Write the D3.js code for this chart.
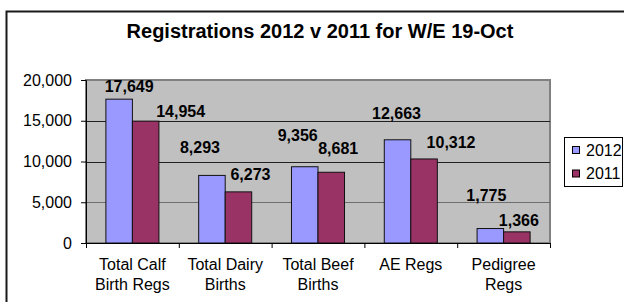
<!DOCTYPE html>
<html>
<head>
<meta charset="utf-8">
<script src="https://cdn.jsdelivr.net/npm/d3@7"></script>
<style>
  body { margin: 0; background: #fff; }
  text { font-family: "Liberation Sans", Arial, sans-serif; }
</style>
</head>
<body>
<div class="chart"></div>
<script>
// chart data
var categories = [["Total Calf", "Birth Regs"], ["Total Dairy", "Births"], ["Total Beef", "Births"], ["AE Regs"], ["Pedigree", "Regs"]];
var values2012 = [17649, 8293, 9356, 12663, 1775];
var values2011 = [14954, 6273, 8681, 10312, 1366];
var seriesNames = ["2012", "2011"];
var yTicks = [0, 5000, 10000, 15000, 20000];

// label nudges (the original had hand-placed data labels)
var labelShift2012 = [[10, -1], [-12, -16], [-7, -20], [-1, -15], [-4, -22]];
var labelShift2011 = [[35, 2], [12, -6], [7, -12], [27, -5], [2, 0]];

var svgWidth = 624, svgHeight = 302;
var plot = { left: 86, right: 550, top: 80, bottom: 243 };
var colors = ["#9999FF", "#993366"];

var svg = d3.select(".chart")
    .append("svg")
    .attr("width", svgWidth)
    .attr("height", svgHeight);

// outer chart border (runs off the right and bottom edges)
svg.append("rect")
    .attr("x", 6.5).attr("y", 11.5)
    .attr("width", 700).attr("height", 400)
    .attr("fill", "#fff")
    .attr("stroke", "#1a1a1a")
    .attr("stroke-width", 2);

svg.append("text")
    .attr("x", 320).attr("y", 38)
    .attr("text-anchor", "middle")
    .attr("font-size", "20px")
    .attr("font-weight", "bold")
    .text("Registrations 2012 v 2011 for W/E 19-Oct");

var xScale = d3.scaleBand()
    .domain(d3.range(categories.length))
    .range([plot.left, plot.right]);

var yScale = d3.scaleLinear()
    .domain([0, 20000])
    .range([plot.bottom, plot.top]);

var barW = xScale.bandwidth() / 3.5;
var groupOffset = (xScale.bandwidth() - 2 * barW) / 2;

// plot area
svg.append("rect")
    .attr("x", plot.left).attr("y", plot.top)
    .attr("width", plot.right - plot.left)
    .attr("height", plot.bottom - plot.top)
    .attr("fill", "#C0C0C0")
    .attr("stroke", "#808080")
    .attr("stroke-width", 2);

// gridlines
svg.append("g").selectAll("line")
    .data(yTicks.filter(d => d > 0 && d < 20000))
    .enter()
    .append("line")
    .attr("x1", plot.left).attr("x2", plot.right)
    .attr("y1", d => Math.round(yScale(d)) + 0.5)
    .attr("y2", d => Math.round(yScale(d)) + 0.5)
    .attr("stroke", d => d == 5000 ? "#6e6e6e" : "#202020")
    .attr("stroke-width", 1);

// bars
var series = [values2012, values2011];
series.forEach(function (vals, s) {
    svg.append("g").selectAll("rect")
        .data(vals)
        .enter()
        .append("rect")
        .attr("x", (d, i) => xScale(i) + groupOffset + s * barW)
        .attr("y", d => yScale(d))
        .attr("width", barW)
        .attr("height", d => plot.bottom - yScale(d))
        .attr("fill", colors[s])
        .attr("stroke", "#111")
        .attr("stroke-width", 1);
});

// axes
var leftAxis = d3.axisLeft(yScale)
    .tickValues(yTicks)
    .tickSize(5)
    .tickPadding(9)
    .tickFormat(d3.format(","));

var yAxis = svg.append("g")
    .attr("transform", `translate(${plot.left}, 0)`)
    .call(leftAxis);
yAxis.select(".domain").attr("stroke", "#000");
yAxis.selectAll("text")
    .attr("font-size", "16px")
    .attr("font-family", "'Liberation Sans', Arial, sans-serif")
    .attr("fill", "#000");

var bottomAxis = d3.axisBottom(d3.scaleLinear().domain([0, categories.length]).range([plot.left, plot.right]))
    .ticks(categories.length)
    .tickSize(5)
    .tickFormat("");
svg.append("g")
    .attr("transform", `translate(0, ${plot.bottom})`)
    .call(bottomAxis)
    .select(".domain").attr("stroke", "#000");

// category labels
var catLabels = svg.append("g").selectAll("text")
    .data(categories)
    .enter()
    .append("text")
    .attr("x", (d, i) => xScale(i) + xScale.bandwidth() / 2)
    .attr("y", 270)
    .attr("text-anchor", "middle")
    .attr("font-size", "16px");
catLabels.selectAll("tspan")
    .data(d => d)
    .enter()
    .append("tspan")
    .attr("x", function () { return d3.select(this.parentNode).attr("x"); })
    .attr("dy", (d, j) => j == 0 ? 0 : 20)
    .text(d => d);

// data labels
var shifts = [labelShift2012, labelShift2011];
series.forEach(function (vals, s) {
    svg.append("g").selectAll("text")
        .data(vals)
        .enter()
        .append("text")
        .attr("x", (d, i) => xScale(i) + groupOffset + s * barW + barW / 2 + shifts[s][i][0])
        .attr("y", (d, i) => yScale(d) - 6 + shifts[s][i][1])
        .attr("text-anchor", "middle")
        .attr("font-size", "16px")
        .attr("font-weight", "bold")
        .text(d => d3.format(",")(d));
});

// legend
var legend = svg.append("g");
legend.append("rect")
    .attr("x", 564.5).attr("y", 137.5)
    .attr("width", 58).attr("height", 49)
    .attr("fill", "#fff")
    .attr("stroke", "#000");

seriesNames.forEach(function (name, s) {
    var cy = 150 + s * 23.5;
    legend.append("rect")
        .attr("x", 572.5).attr("y", cy - 3.5)
        .attr("width", 7).attr("height", 7)
        .attr("fill", colors[s])
        .attr("stroke", "#000");
    legend.append("text")
        .attr("x", 586).attr("y", cy + 5.5)
        .attr("font-size", "16px")
        .text(name);
});
</script>
</body>
</html>
